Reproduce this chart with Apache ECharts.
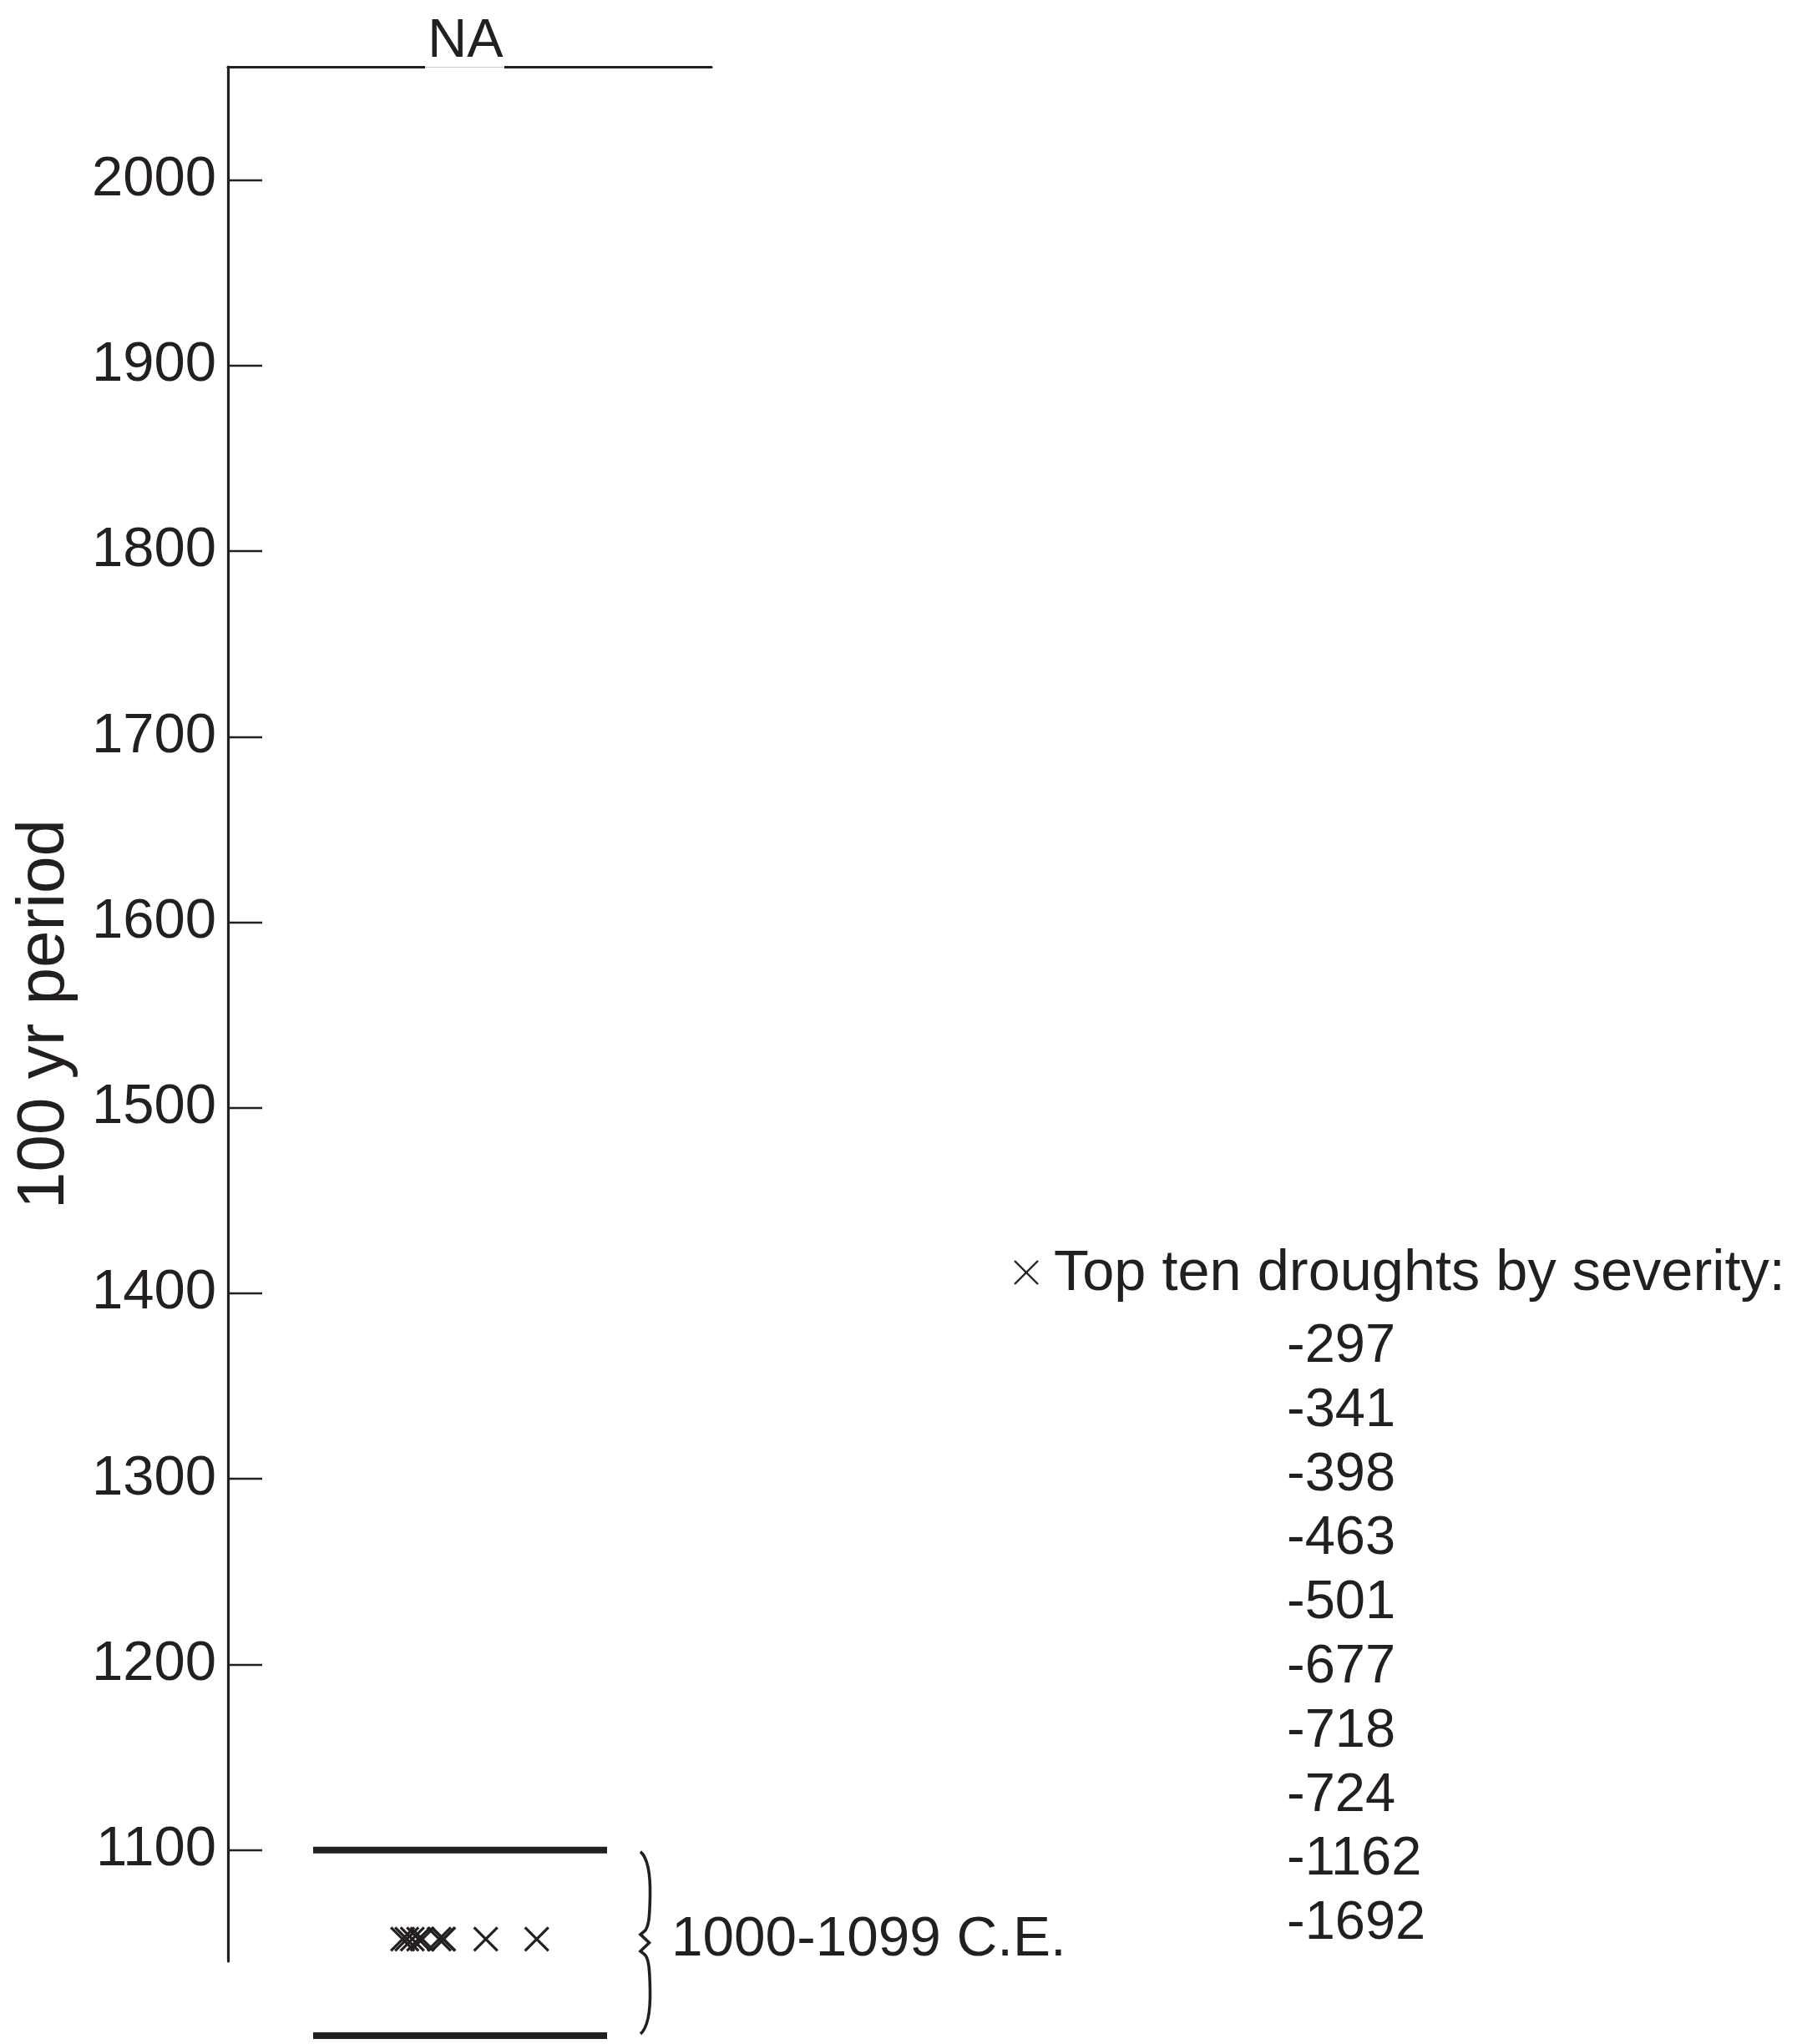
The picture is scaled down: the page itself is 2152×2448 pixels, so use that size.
<!DOCTYPE html>
<html>
<head>
<meta charset="utf-8">
<title>NA droughts, 100 yr periods</title>
<script src="https://cdn.jsdelivr.net/npm/echarts@6/dist/echarts.min.js"></script>
<style>
  html, body { margin: 0; padding: 0; background: #ffffff; }
  #chart { width: 2152px; height: 2448px; }
</style>
</head>
<body>
<div id="chart"></div>
<script>
// Region shown in the panel
const regionName = 'NA';

// Century tick labels on the vertical axis
const yearTicks = [1100, 1200, 1300, 1400, 1500, 1600, 1700, 1800, 1900, 2000];

// 100-year periods holding the top droughts
const periodLabels = ['1000-1099 C.E.'];
const periodStarts = [1000];
const periodEnds = [1100];

// Top ten droughts by severity (all fall in the 1000-1099 period)
const droughtSeverity = [-297, -341, -398, -463, -501, -677, -718, -724, -1162, -1692];
const droughtRowYear = [1052, 1052, 1052, 1052, 1052, 1052, 1052, 1052, 1052, 1052];

const legendTitle = 'Top ten droughts by severity:';

const INK = '#231f20';
const FONT = '"Liberation Sans", Arial, Helvetica, sans-serif';

const chart = echarts.init(document.getElementById('chart'), null, { renderer: 'canvas' });

// x-shaped marker
const crossSymbol = 'path://M0,0L10,10M10,0L0,10';

const periodData = periodStarts.map((s, i) => [s, periodEnds[i]]);
const droughtData = droughtSeverity.map((s, i) => [s, droughtRowYear[i]]);

// Curly brace drawn in a 222-unit-tall box, scaled to the period height
function bracePath(x, yTop, yBot) {
  const k = (yBot - yTop) / 222;
  const p = (dx, dy) => (x + dx).toFixed(2) + ',' + (yTop + dy * k).toFixed(2);
  return 'M' + p(0, 2) +
    'C' + p(9, 10) + ' ' + p(12, 30) + ' ' + p(11.5, 55) +
    'C' + p(11, 80) + ' ' + p(10, 92) + ' ' + p(5, 97) +
    'L' + p(0, 101) + 'L' + p(10.5, 111) + 'L' + p(0, 121) + 'L' + p(5, 125) +
    'C' + p(10, 130) + ' ' + p(11, 142) + ' ' + p(11.5, 167) +
    'C' + p(12, 192) + ' ' + p(9, 212) + ' ' + p(0, 220);
}

const option = {
  backgroundColor: '#ffffff',
  animation: false,
  grid: { left: 273, top: 80, width: 579, height: 2269, containLabel: false },
  xAxis: {
    type: 'value',
    position: 'top',
    inverse: true,
    min: -3510,
    max: 1520,
    axisLine: { show: true, onZero: false, lineStyle: { color: INK, width: 3.2 } },
    axisTick: { show: false },
    axisLabel: { show: false },
    splitLine: { show: false }
  },
  yAxis: {
    type: 'value',
    min: 1040,
    max: 2061,
    name: '100 yr period',
    nameLocation: 'middle',
    nameGap: 179,
    nameTextStyle: { fontFamily: FONT, fontSize: 80, color: INK },
    axisLine: { show: true, onZero: false, lineStyle: { color: INK, width: 3.2 } },
    axisTick: {
      show: true, inside: true, length: 41, customValues: yearTicks,
      lineStyle: { color: INK, width: 2.3 }
    },
    axisLabel: {
      show: true, margin: 14, customValues: yearTicks,
      formatter: (v) => String(v),
      padding: [16, 0, 0, 0],
      fontFamily: FONT, fontSize: 67, color: INK
    },
    splitLine: { show: false }
  },
  series: [
    {
      type: 'custom',
      name: 'period',
      clip: false,
      silent: true,
      dimensions: ['start', 'end'],
      encode: { y: [0, 1] },
      data: periodData,
      renderItem: function (params, api) {
        const cs = params.coordSys;
        const yBot = api.coord([0, api.value(0)])[1];
        const yTop = api.coord([0, api.value(1)])[1];
        const yMid = (yTop + yBot) / 2;
        const x0 = cs.x + 102;
        const x1 = cs.x + 454;
        const bx = cs.x + 494;
        return {
          type: 'group',
          children: [
            { type: 'line', shape: { x1: x0, y1: yTop, x2: x1, y2: yTop },
              style: { stroke: INK, lineWidth: 8 } },
            { type: 'line', shape: { x1: x0, y1: yBot, x2: x1, y2: yBot },
              style: { stroke: INK, lineWidth: 8 } },
            { type: 'path', shape: { pathData: bracePath(bx, yTop, yBot) },
              style: { stroke: INK, fill: null, lineWidth: 3.6, lineJoin: 'miter' } },
            { type: 'text', x: cs.x + 531, y: yMid - 3,
              style: { text: periodLabels[params.dataIndex], fill: INK,
                       font: '67.5px ' + FONT, textAlign: 'left', textVerticalAlign: 'middle' } }
          ]
        };
      }
    },
    {
      type: 'scatter',
      name: legendTitle,
      clip: false,
      data: droughtData,
      symbol: crossSymbol,
      symbolSize: 28,
      itemStyle: { color: 'rgba(0,0,0,0)', borderColor: INK, borderWidth: 3.2, opacity: 1 }
    }
  ],
  graphic: [
    // Region title sitting on the top frame line
    { type: 'rect', z: 100, shape: { x: 509, y: 40, width: 95, height: 42 }, style: { fill: '#ffffff' } },
    { type: 'line', z: 101, shape: { x1: 509, y1: 80.5, x2: 604, y2: 80.5 }, style: { stroke: '#cfcfcf', lineWidth: 1 } },
    { type: 'text', z: 102, x: 557.5, y: 50,
      style: { text: regionName, fill: INK, font: '65px ' + FONT, textAlign: 'center', textVerticalAlign: 'middle' } },
    // Legend key
    { type: 'group', z: 100, children: [
      { type: 'line', shape: { x1: 1215, y1: 1510, x2: 1243, y2: 1538 }, style: { stroke: INK, lineWidth: 2.4 } },
      { type: 'line', shape: { x1: 1215, y1: 1538, x2: 1243, y2: 1510 }, style: { stroke: INK, lineWidth: 2.4 } },
      { type: 'text', x: 1262, y: 1526,
        style: { text: legendTitle, fill: INK, font: '68.5px ' + FONT, textAlign: 'left', textVerticalAlign: 'middle' } }
    ].concat(droughtSeverity.map((s, i) => ({
      type: 'text', x: 1541, y: 1613 + i * 76.8,
      style: { text: String(s), fill: INK, font: '65px ' + FONT, textAlign: 'left', textVerticalAlign: 'middle' }
    }))) }
  ]
};

chart.setOption(option);
</script>
</body>
</html>
